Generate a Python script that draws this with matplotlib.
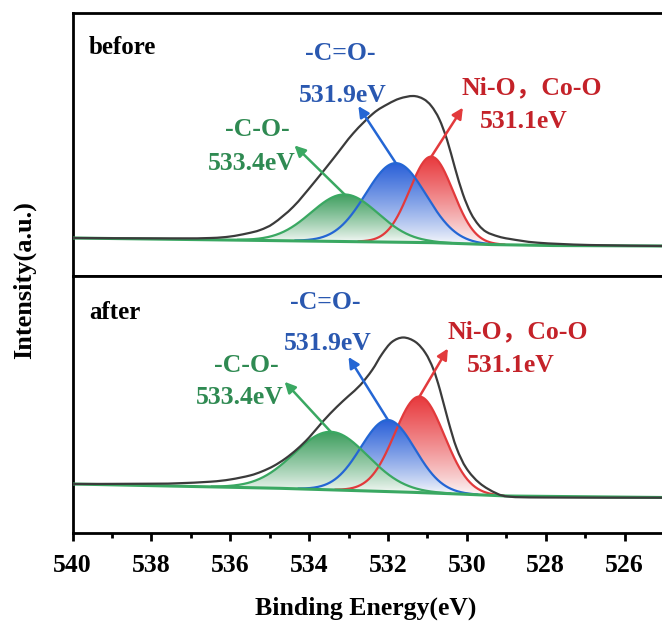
import numpy as np
import matplotlib
matplotlib.use("Agg")
import matplotlib.pyplot as plt
from matplotlib.patches import Polygon, PathPatch
from matplotlib.path import Path
from matplotlib.ticker import MultipleLocator

plt.rcParams['font.family'] = ['Liberation Serif', 'Noto Sans CJK SC']
plt.rcParams['font.weight'] = 'bold'

# ---------------- data ----------------
panel_names = ["before", "after"]
peak_labels = ["-C-O-", "-C=O-", "Ni-O，Co-O"]
peak_energy_labels = ["533.4eV", "531.9eV", "531.1eV"]

# fitted components (green, blue, red): centre (eV), height above baseline, FWHM (eV)
centers_before = [533.1, 531.8, 530.9]
heights_before = [47, 79, 86]
fwhm_before = [2.0, 1.8, 1.3]

centers_after = [533.45, 532.0, 531.2]
heights_after = [58, 71.5, 96]
fwhm_after = [2.2, 1.62, 1.48]

# background (Shirley-like) baseline
base_x_before = [540, 535, 531, 529.5, 528, 525]
base_y_before = [38, 35.5, 33.5, 31.5, 30.5, 30]
base_x_after = [540, 535, 532, 530.5, 529, 525]
base_y_after = [49, 45, 41.5, 39.5, 37, 35.5]

# measured envelope
env_x_before = [540, 537.5, 536.5, 536.0, 535.58, 535.24, 534.9, 534.4, 533.89, 533.38,
                532.88, 532.37, 532.0, 531.7, 531.36, 531.1, 530.9, 530.7, 530.5,
                530.3, 530.1, 529.9, 529.7, 529.5, 529.2, 528.9, 528.2, 526.9, 525.0]
env_y_before = [38, 37.6, 38, 39.5, 42.5, 46, 52.7, 69.3, 92.7, 117.7,
                142.7, 162.7, 172, 177.5, 180, 177, 170, 157, 136,
                108, 82, 63, 51, 44, 39.5, 37, 33.3, 31, 30]
env_x_after = [540, 538, 537.35, 536.5, 536.0, 535.5, 535.2, 534.9, 534.6, 534.3,
               534.0, 533.64, 533.3, 533.0, 532.7, 532.4, 532.15, 531.9, 531.61,
               531.3, 531.05, 530.85, 530.68, 530.47, 530.26, 530.01, 529.67, 529.25,
               528.91, 528.0, 525.0]
env_y_after = [49, 49.3, 49.7, 51.3, 53.5, 57.5, 61.5, 67, 74.5, 84,
               95.5, 112, 126, 137, 148, 163, 179, 191, 195.5,
               191, 180, 164, 143, 112, 85, 64.7, 49.7, 39.7,
               36.3, 35.5, 35.3]

xticks = [540, 538, 536, 534, 532, 530, 528, 526]

# ---------------- style ----------------
line_cols = ["#3aa862", "#2466d4", "#e23a3c"]
fill_cols = ["#3f9f5f", "#2a60d8", "#e8383c"]
text_cols = ["#2f8a52", "#2a58b0", "#c42229"]
env_col = "#3b3b3b"

W, H = 662, 626
fig = plt.figure(figsize=(W / 100, H / 100), dpi=100)
left = 72.5 / W
ax_top = fig.add_axes([left, (H - 276) / H, 1 - left, (276 - 13) / H])
ax_bot = fig.add_axes([left, (H - 533) / H, 1 - left, (533 - 276) / H])


def component(x, c, h, fw):
    s = fw / 2.3548
    return h * np.exp(-0.5 * ((x - c) / s) ** 2)


def smooth_path(xs, ys):
    """Catmull-Rom curve through the given points, expressed as Bezier segments."""
    P = np.column_stack([xs, ys]).astype(float)
    P = np.vstack([P[0], P, P[-1]])
    verts = [P[1]]
    codes = [Path.MOVETO]
    for i in range(1, len(P) - 2):
        p0, p1, p2, p3 = P[i - 1], P[i], P[i + 1], P[i + 2]
        c1 = p1 + (p2 - p0) / 6.0
        c2 = p2 - (p3 - p1) / 6.0
        verts += [c1, c2, p2]
        codes += [Path.CURVE4] * 3
    return Path(verts, codes)


def grad_fill(ax, x, ytop, ybase, color, z):
    verts = np.vstack([np.column_stack([x, ytop]),
                       np.column_stack([x[::-1], ybase[::-1]])])
    poly = Polygon(verts, closed=True, facecolor='none', edgecolor='none')
    ax.add_patch(poly)
    c = np.array(matplotlib.colors.to_rgb(color))
    t = np.linspace(0, 1, 256)[:, None] ** 0.85
    grad = (1 - t) * np.array([1, 1, 1]) * 0.99 + t * c
    grad = grad[:, None, :]
    im = ax.imshow(grad, extent=[x.min(), x.max(), ybase.min(), ytop.max()],
                   origin='lower', aspect='auto', zorder=z, interpolation='bilinear')
    im.set_clip_path(poly)


panels = [
    (ax_top, centers_before, heights_before, fwhm_before, base_x_before, base_y_before,
     env_x_before, env_y_before, 263, panel_names[0],
     [(535.3, 146, 535.45, 113), (533.22, 223, 533.14, 181), (528.35, 188, 528.55, 154)],
     [(1.27, 49), (0.95, 57), (-0.8, 49)], 228),
    (ax_bot, centers_after, heights_after, fwhm_after, base_x_after, base_y_after,
     env_x_after, env_y_after, 257, panel_names[1],
     [(535.6, 168, 535.75, 136), (533.6, 230, 533.52, 190), (528.7, 201, 528.88, 168)],
     [(1.17, 50), (1.0, 63), (-0.72, 48)], 220),
]

for (ax, cen, hei, fw, bx, by, ex, ey, ytop, name, lblpos, arrows, namey) in panels:
    x = np.linspace(537.5, 527.5, 600)
    base = np.interp(x, bx[::-1], by[::-1])
    xb = np.linspace(540, 525, 300)
    for i in [2, 1, 0]:
        y = base + component(x, cen[i], hei[i], fw[i])
        mask = (y - base) > 0.3
        xs, ys, bs = x[mask], y[mask], base[mask]
        grad_fill(ax, xs, ys, bs, fill_cols[i], z=2 + (2 - i) * 0.1)
        ax.plot(xs, ys, color=line_cols[i], lw=1.6, zorder=3 + (2 - i) * 0.1)
    ax.plot(xb, np.interp(xb, bx[::-1], by[::-1]), color=line_cols[0], lw=2.2, zorder=3.5)
    ax.add_patch(PathPatch(smooth_path(ex, ey), facecolor='none', edgecolor=env_col,
                           lw=1.6, zorder=4))

    for i in range(3):
        tx, ty = cen[i], np.interp(cen[i], bx[::-1], by[::-1]) + hei[i]
        dx, dy = arrows[i]
        ax.annotate("", xy=(tx + dx, ty + dy), xytext=(tx, ty),
                    arrowprops=dict(arrowstyle='-|>', color=line_cols[i], lw=1.8,
                                    mutation_scale=16, shrinkA=0, shrinkB=0),
                    zorder=6)
        l1x, l1y, l2x, l2y = lblpos[i]
        ax.text(l1x, l1y, peak_labels[i], color=text_cols[i], fontsize=18.5,
                ha='center', va='center', fontweight='bold', zorder=7)
        ax.text(l2x, l2y, peak_energy_labels[i], color=text_cols[i], fontsize=18.5,
                ha='center', va='center', fontweight='bold', zorder=7)

    ax.text(539.58, namey, name, color='black', fontsize=18, ha='left', va='center',
            fontweight='bold')
    ax.set_xlim(540, 525.05)
    ax.set_ylim(0, ytop)
    ax.set_yticks([])
    for s in ['left', 'top', 'bottom']:
        ax.spines[s].set_linewidth(2.0)
    ax.spines['right'].set_visible(False)

ax_top.set_xticks([])
ax_bot.set_xticks(xticks)
ax_bot.xaxis.set_minor_locator(MultipleLocator(1))
ax_bot.tick_params(axis='x', which='major', direction='out', length=6, width=2.0,
                   labelsize=18.5, pad=9)
ax_bot.tick_params(axis='x', which='minor', direction='out', length=3.5, width=2.0)
for lab in ax_bot.get_xticklabels():
    lab.set_fontweight('bold')

fig.text(366 / W, 1 - 608 / H, "Binding Energy(eV)", ha='center', va='center',
         fontsize=18.5, fontweight='bold')
fig.text(24 / W, 1 - 280 / H, "Intensity(a.u.)", ha='center', va='center',
         rotation=90, fontsize=19, fontweight='bold')

fig.savefig("out.png", dpi=100)
